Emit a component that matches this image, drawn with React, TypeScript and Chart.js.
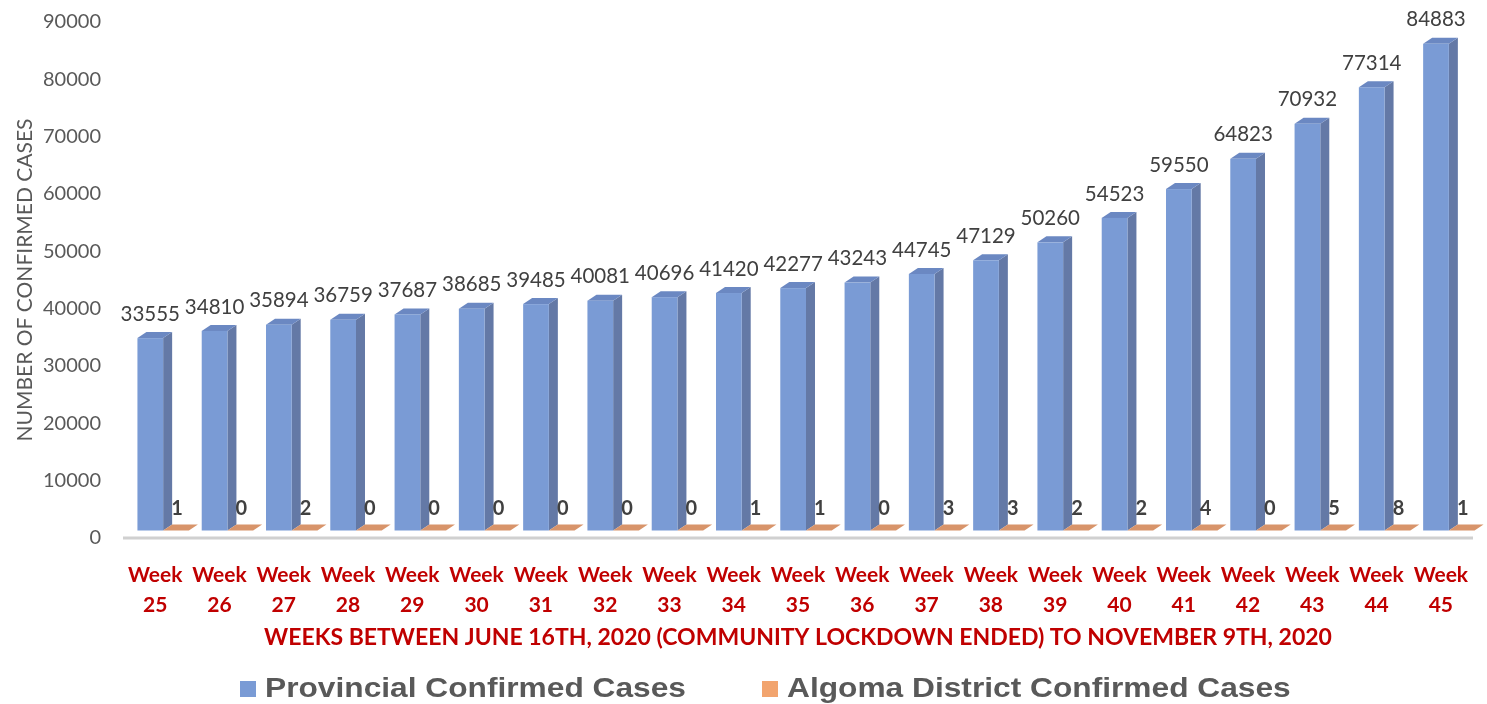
import React, { useEffect, useRef } from "react";
import { Chart, registerables } from "chart.js";

Chart.register(...registerables);

// ---------- data ----------
const weekNumbers = ["25", "26", "27", "28", "29", "30", "31", "32", "33", "34", "35", "36", "37", "38", "39", "40", "41", "42", "43", "44", "45"];
const categories = weekNumbers.map((w) => ["Week", w]);
const provincialCases = [33555, 34810, 35894, 36759, 37687, 38685, 39485, 40081, 40696, 41420, 42277, 43243, 44745, 47129, 50260, 54523, 59550, 64823, 70932, 77314, 84883];
const algomaCases = [1, 0, 2, 0, 0, 0, 0, 0, 0, 1, 1, 0, 3, 3, 2, 2, 4, 0, 5, 8, 1];
const seriesNames = ["Provincial Confirmed Cases", "Algoma District Confirmed Cases"];
const yAxisTitle = "NUMBER OF CONFIRMED CASES";
const xAxisTitle = "WEEKS BETWEEN JUNE 16TH, 2020 (COMMUNITY LOCKDOWN ENDED) TO NOVEMBER 9TH, 2020";
const yMin = 0;
const yMax = 90000;
const yStep = 10000;

// ---------- styles ----------
const W = 1487;
const H = 704;
const seriesColors = [
  { front: "#7a9bd5", side: "#6479a6", top: "#6b88c2", legend: "#7a9bd5" },
  { front: "#e39a6b", side: "#c98559", top: "#d8946a", legend: "#f2a46e" },
];
const shift = { x: 8, y: -7.5 };
const depth = { x: 9, y: -6 };

function drawBox(ctx: CanvasRenderingContext2D, left: number, right: number, top: number, bottom: number, c: any) {
  ctx.fillStyle = c.side;
  ctx.beginPath();
  ctx.moveTo(right, bottom);
  ctx.lineTo(right + depth.x, bottom + depth.y);
  ctx.lineTo(right + depth.x, top + depth.y);
  ctx.lineTo(right, top);
  ctx.closePath();
  ctx.fill();
  ctx.fillStyle = c.top;
  ctx.beginPath();
  ctx.moveTo(left, top);
  ctx.lineTo(right, top);
  ctx.lineTo(right + depth.x, top + depth.y);
  ctx.lineTo(left + depth.x, top + depth.y);
  ctx.closePath();
  ctx.fill();
  if (bottom - top > 0.5) {
    ctx.fillStyle = c.front;
    ctx.fillRect(left, top, right - left, bottom - top);
  }
}

const bars3d = {
  id: "bars3d",
  beforeDatasetDraw() {
    return false;
  },
  beforeDatasetsDraw(chart: any) {
    const { ctx, chartArea } = chart;
    const base = chart.scales.y.getPixelForValue(0);
    ctx.save();
    ctx.strokeStyle = "#d0d0d0";
    ctx.lineWidth = 3;
    ctx.beginPath();
    ctx.moveTo(chartArea.left, base);
    ctx.lineTo(chartArea.right, base);
    ctx.stroke();
    ctx.restore();
  },
  afterDatasetsDraw(chart: any) {
    const { ctx } = chart;
    const base = chart.scales.y.getPixelForValue(0);
    const metas = chart.data.datasets.map((_: any, i: number) => chart.getDatasetMeta(i));
    ctx.save();
    const n = chart.data.labels.length;
    for (let i = 0; i < n; i++) {
      metas.forEach((meta: any, di: number) => {
        const el = meta.data[i];
        const { x, y, width } = el.getProps(["x", "y", "width"], true);
        const left = x - width / 2 + shift.x;
        const right = x + width / 2 + shift.x;
        const top = y + shift.y;
        const bottom = base + shift.y;
        drawBox(ctx, left, right, top, bottom, seriesColors[di]);
      });
    }
    // labels
    ctx.textAlign = "center";
    ctx.textBaseline = "middle";
    ctx.fillStyle = "#404040";
    metas.forEach((meta: any, di: number) => {
      const values = chart.data.datasets[di].data;
      meta.data.forEach((el: any, i: number) => {
        const { x, y } = el.getProps(["x", "y"], true);
        const cx = x + shift.x;
        if (di === 0) {
          ctx.font = "20.5px Lato";
          ctx.fillText(String(values[i]), cx, y + shift.y - 24);
        } else {
          ctx.font = "bold 20px Lato";
          ctx.fillText(String(values[i]), cx + 1, base + shift.y - 22);
        }
      });
    });
    ctx.restore();
  },
  afterDraw(chart: any) {
    const { ctx } = chart;
    ctx.save();
    ctx.font = "bold 27px 'Liberation Sans'";
    ctx.textBaseline = "middle";
    ctx.textAlign = "left";
    const box = 16;
    const targetFirstWidth = 421;
    const sx = targetFirstWidth / ctx.measureText(seriesNames[0]).width;
    const cy = 689;
    let x = 240;
    seriesNames.forEach((s, i) => {
      ctx.fillStyle = seriesColors[i].legend;
      ctx.fillRect(x, cy - box / 2, box, box);
      x += box + 9;
      ctx.fillStyle = "#595959";
      ctx.save();
      ctx.translate(x, cy + 1);
      ctx.scale(sx, 1);
      ctx.fillText(s, 0, 0);
      ctx.restore();
      x += ctx.measureText(s).width * sx + 76;
    });
    ctx.restore();
  },
};

export default function App() {
  const ref = useRef<HTMLCanvasElement>(null);
  useEffect(() => {
    if (!ref.current) return;
    const chart = new Chart(ref.current, {
      type: "bar",
      data: {
        labels: categories,
        datasets: [
          { label: seriesNames[0], data: provincialCases, backgroundColor: seriesColors[0].legend },
          { label: seriesNames[1], data: algomaCases, backgroundColor: seriesColors[1].legend },
        ],
      },
      options: {
        responsive: false,
        animation: false,
        devicePixelRatio: 1,
        datasets: { bar: { categoryPercentage: 0.8, barPercentage: 1.0 } },
        layout: { padding: { top: 22, right: 14, bottom: 40, left: 0 } },
        plugins: { legend: { display: false }, tooltip: { enabled: false } },
        scales: {
          x: {
            grid: { display: false },
            border: { display: false },
            ticks: {
              autoSkip: false,
              maxRotation: 0,
              padding: 14,
              color: "#c00000",
              font: { family: "Lato", size: 21, weight: "bold", lineHeight: 1.45 },
            },
            title: {
              display: true,
              text: xAxisTitle,
              color: "#c00000",
              font: { family: "Lato", size: 23, weight: "bold", lineHeight: 1.2 },
              padding: { top: 0, bottom: 13 },
            },
            afterFit: (s: any) => {
              s.height = 126;
            },
          },
          y: {
            min: yMin,
            max: yMax,
            grid: {
              display: true,
              drawOnChartArea: false,
              drawTicks: true,
              tickLength: 12,
              color: "rgba(0,0,0,0)",
            },
            border: { display: false },
            ticks: {
              stepSize: yStep,
              padding: 10,
              color: "#595959",
              font: { family: "Lato", size: 20 },
              callback: (v: any) => String(v),
            },
            title: {
              display: true,
              text: yAxisTitle,
              color: "#595959",
              font: { family: "Lato", size: 21, lineHeight: 1.2 },
              padding: { top: 13, bottom: 0 },
            },
            afterFit: (s: any) => {
              s.width = 123;
            },
          },
        },
      },
      plugins: [bars3d],
    });
    return () => chart.destroy();
  }, []);
  return (
    <div style={{ position: "absolute", left: 0, top: 0, width: W, height: H, background: "#fff" }}>
      <canvas ref={ref} width={W} height={H} style={{ display: "block" }} />
    </div>
  );
}
